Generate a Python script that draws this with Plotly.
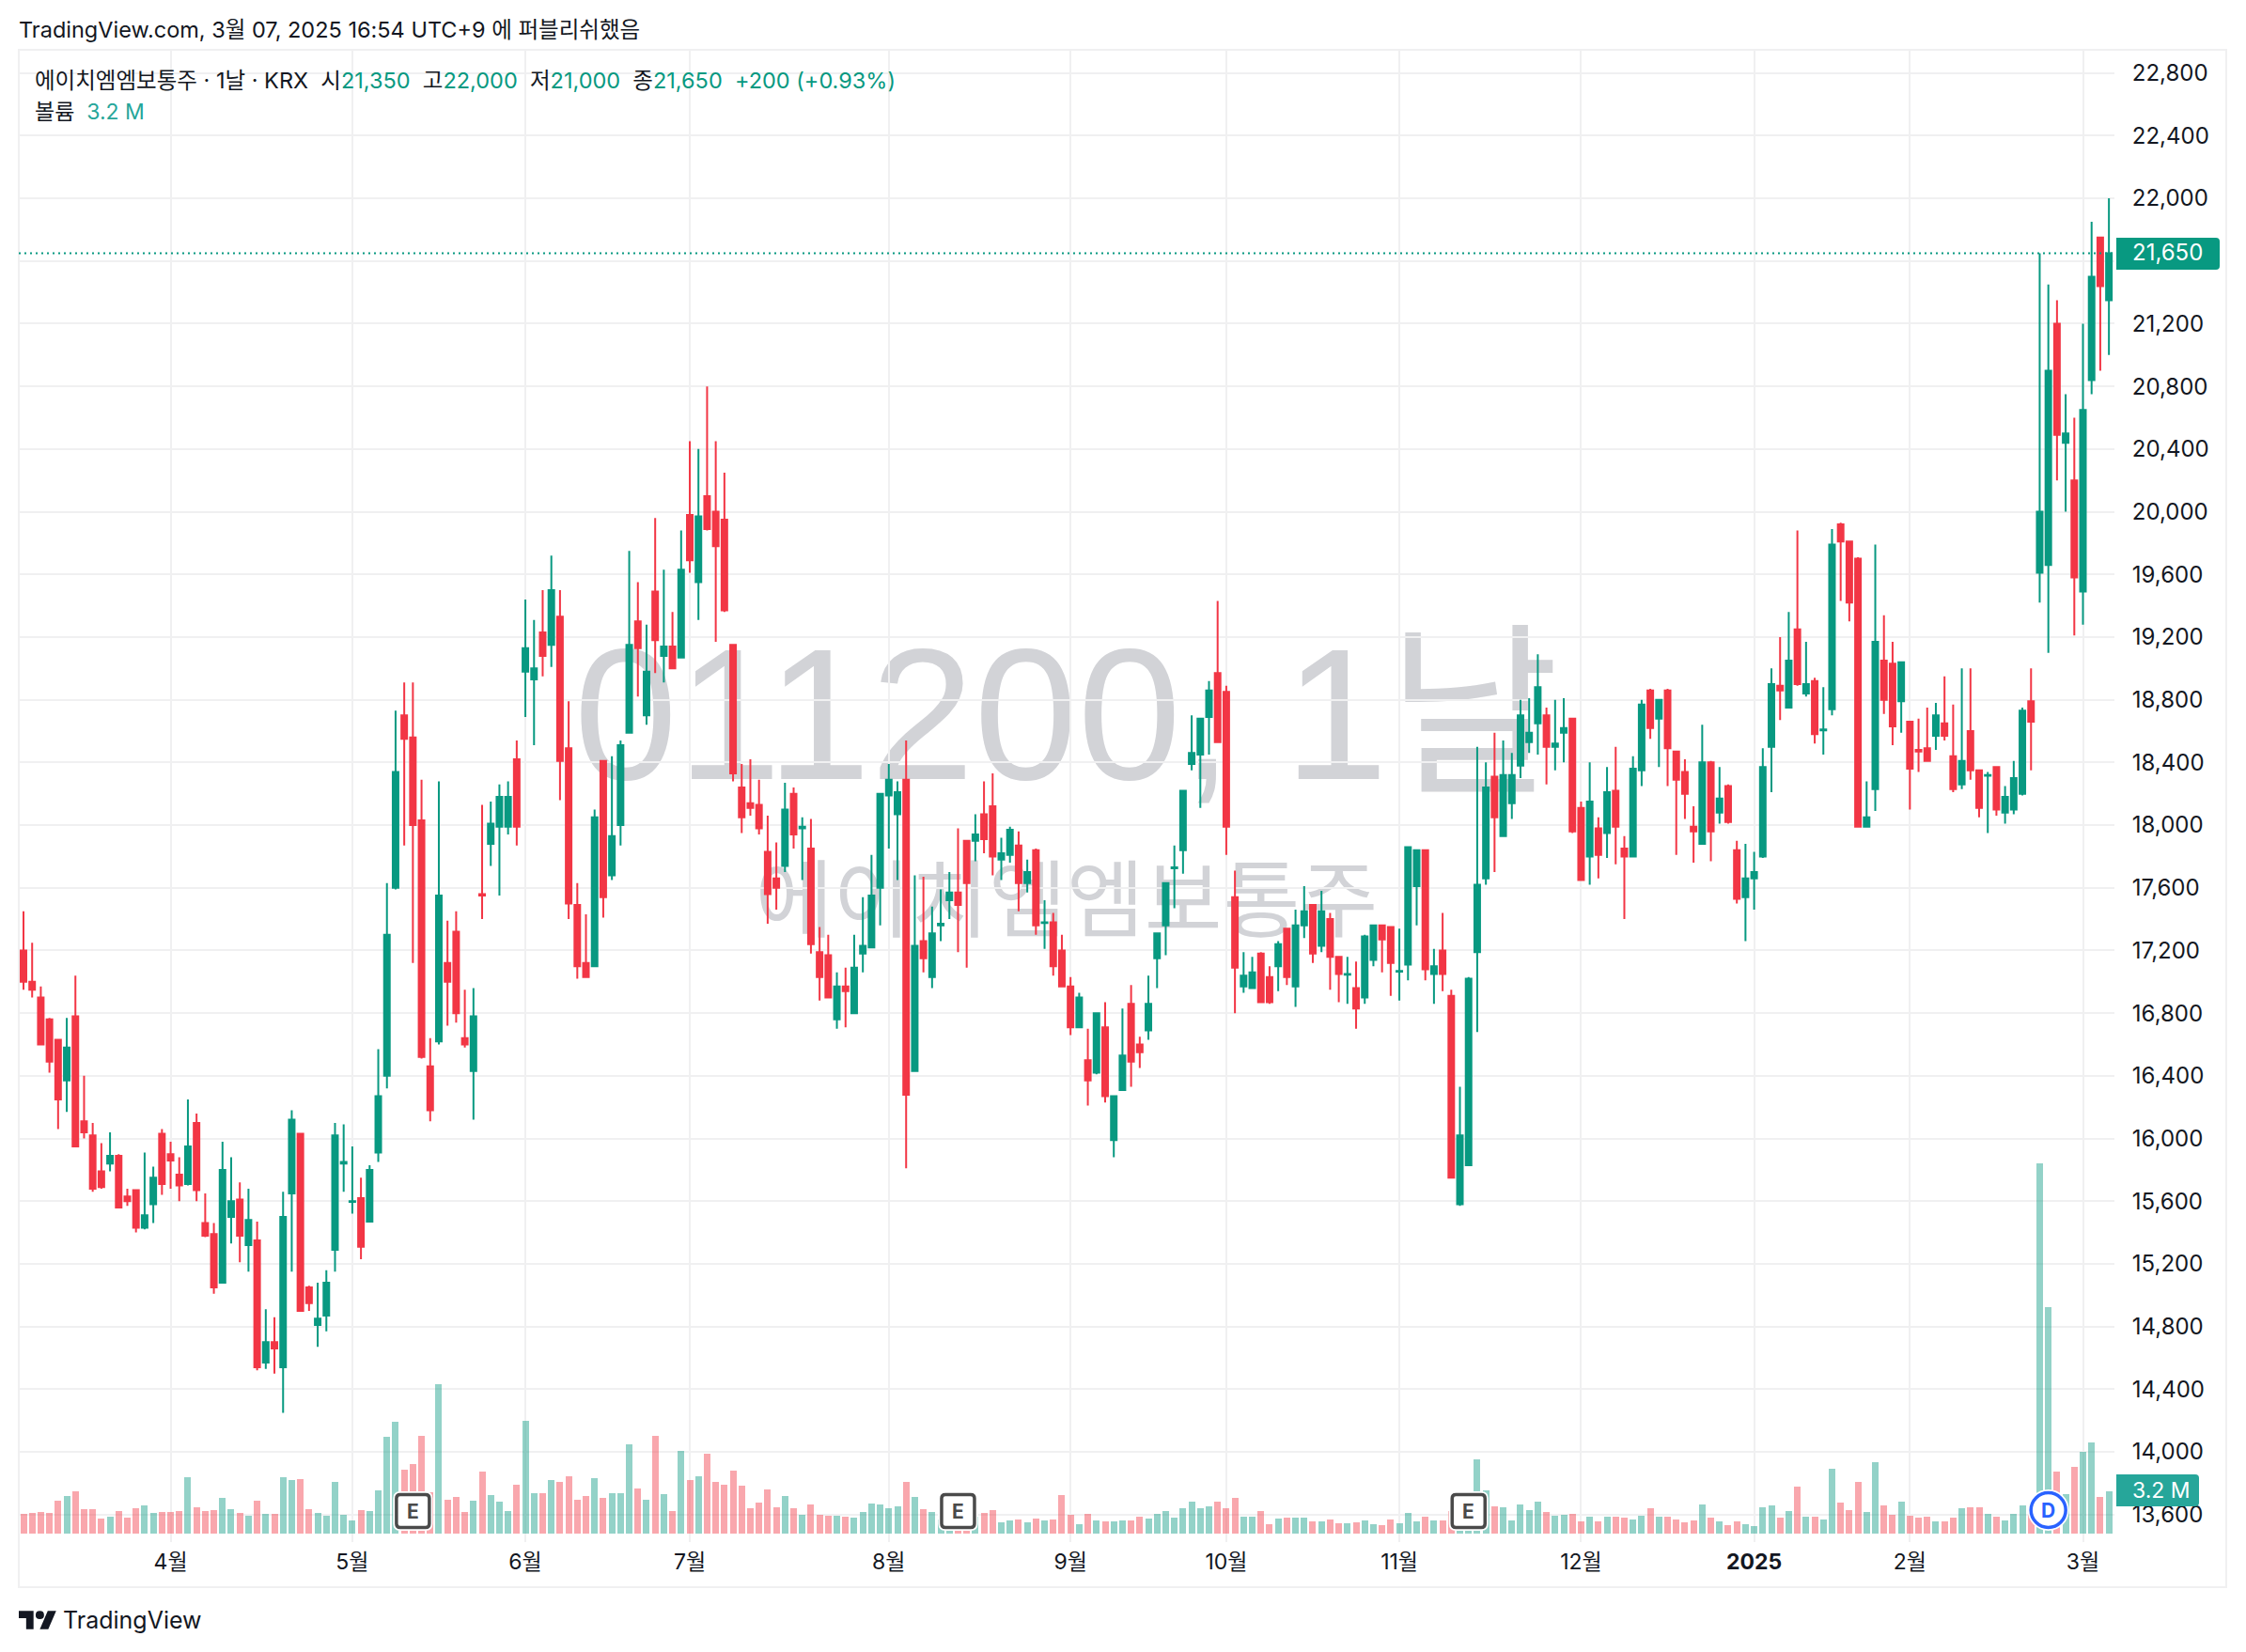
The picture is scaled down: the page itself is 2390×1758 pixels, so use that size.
import plotly.graph_objects as go

# Daily bars: open, high, low, close, volume in millions of shares
opens = [17200,17000,16900,16760,16630,16370,16780,16110,16020,15790,15840,15890,15630,15670,15430,15580,16030,15900,15770,15710,
16100,15460,15390,15080,15500,15610,15320,15350,14570,14700,14540,15650,16030,15050,14810,14870,15290,15840,15595,15620,
15470,15910,16400,17600,18700,18560,18030,16460,16620,17120,17320,16640,16430,17560,17880,17990,17990,18420,18980,18930,
19230,19150,19330,18490,17490,17120,17100,18410,17680,18000,18590,19300,18700,19490,19080,19140,19070,19980,19550,20100,
20000,19950,19150,18240,18140,18130,17830,17660,17740,18200,17980,17850,17190,17170,16760,16970,16800,17180,17220,17600,
18190,18070,18290,16430,17260,17030,17360,17520,17570,17900,17900,18070,18120,17780,17810,17870,17630,17840,17375,17380,
17200,16970,16710,16500,16420,16710,15990,16310,16860,16600,16690,17150,17360,17725,17840,18390,18450,18690,18970,18850,
17540,16970,16960,17180,17030,17100,17340,16970,17360,17490,17230,17400,17160,17045,16960,16900,17140,17360,17350,17065,
17110,17610,17840,17050,17200,16910,15580,15830,17190,17660,18310,17930,18140,18380,18530,18650,18700,18500,18590,18680,
18110,17800,17980,17950,18220,17850,17800,18350,18860,18680,18860,18470,18340,17990,17880,18400,18080,18250,17840,17540,
17660,17800,18500,18890,18750,19250,18840,18920,18605,18740,19920,19810,19700,17990,18230,19050,19030,18790,18660,18480,
18490,18570,18650,18440,18260,18600,18350,18315,18370,18080,18100,18200,18790,19610,19660,21200,20440,20200,19490,20840,
21750,21350]
highs = [17450,17250,16970,16770,16630,16770,17040,16400,16100,15970,16040,15900,15680,15670,15910,15820,16060,15980,15880,16250,
16160,15650,15460,15980,15880,15720,15680,15470,14910,14860,15660,16180,16030,15060,15080,15160,16100,16090,15950,15750,
15830,16570,17630,18730,18910,18910,18290,16640,18280,17390,17450,16950,16960,18130,18150,18260,18280,18540,19440,19310,
19500,19720,19500,18790,17630,17430,18100,18410,18440,18540,19750,19550,19280,19960,19630,19360,19880,20450,20400,20800,
20450,20250,19150,18390,18420,18290,18060,17890,18270,18240,18050,18040,17350,17300,17060,17090,17300,17540,17810,18200,
18390,18280,18540,17680,17670,17480,17590,17700,17980,17900,18070,18280,18330,17920,17990,17960,17780,17850,17520,17440,
17300,17030,16930,16700,16800,16870,16270,16830,16980,16650,17040,17310,17630,17870,18220,18700,18680,18920,19430,18890,
17710,17190,17160,17190,17100,17260,17340,17460,17610,17490,17580,17440,17160,17160,17130,17300,17360,17360,17350,17340,
17860,17840,17840,17210,17440,16950,16330,17030,18500,18400,18590,18540,18460,18800,18810,19090,18750,18800,18810,18680,
18150,18400,18050,18370,18500,17930,18440,18800,18870,18800,18870,18470,18420,18120,18640,18410,18370,18260,17900,17880,
17830,18490,19000,19200,19360,19880,19170,18940,18880,19890,19930,19810,19710,18280,19790,19340,19170,19040,18660,18680,
18750,18780,18950,18770,19000,19000,18350,18340,18370,18250,18410,18750,19000,21650,21450,21350,20750,20600,21200,21850,
21750,22000]
lows = [16950,16900,16600,16420,16060,16170,15950,16000,15660,15680,15790,15560,15570,15400,15420,15460,15640,15680,15600,15700,
15600,15370,15010,15080,15330,15210,15150,14520,14530,14500,14250,15150,14900,14900,14670,14770,15150,15660,15520,15230,
15470,15850,16320,17590,17870,17120,16510,16110,16600,16720,16740,16580,16120,17400,17740,17550,17940,17870,18690,18510,
18950,19010,18160,17400,17020,17030,17100,17410,17650,17870,18590,18820,18640,18970,18910,19000,19070,19610,19310,19880,
19170,19360,18280,17950,18060,17940,17370,17460,17700,17850,17650,17180,16880,16900,16700,16710,16800,17060,17220,17360,
17850,17650,15810,16430,17060,16960,17260,17400,17190,17090,17770,17820,17680,17650,17760,17450,17570,17300,17210,17040,
16970,16660,16710,16210,16410,16230,15880,16310,16330,16450,16630,16960,17170,17470,17690,18350,18110,18450,18530,17810,
16800,16930,16960,16870,16860,16940,16980,16840,17280,17120,17190,16950,16870,16860,16700,16860,17100,17060,16910,16880,
17010,17360,17010,16860,16940,15750,15570,15830,16680,17620,17700,17930,18040,18300,18460,18450,18260,18350,18400,17950,
17650,17620,17660,17790,17750,17400,17800,18250,18550,18370,18250,17810,18040,17760,17880,17770,18010,18010,17500,17260,
17460,17790,18210,18670,18750,18890,18820,18520,18450,18700,19430,19300,17990,17990,18090,18710,18510,18590,18100,18340,
18410,18480,18540,18210,18230,18290,18050,17950,18060,18010,18070,18190,18350,19420,19100,20200,20000,19210,19280,20750,
20900,21000]
closes = [17000,16950,16600,16490,16250,16580,15950,16040,15680,15690,15890,15560,15600,15430,15510,15750,15710,15860,15700,15950,
15670,15380,15050,15800,15600,15380,15480,14540,14700,14660,15500,16120,14900,14950,14850,15080,16020,15850,15600,15310,
15800,16270,17300,18340,18550,18000,16520,16180,17550,17000,16800,16600,16780,17550,18010,18180,18180,17990,19130,19000,
19080,19500,18410,17500,17100,17030,18050,17540,17930,18510,19150,19130,18980,19180,19140,19000,19630,19690,19970,19890,
19780,19370,18330,18050,18110,17980,17560,17600,18100,17940,17990,17240,17030,16900,16970,16940,17090,17230,17550,18200,
18290,18210,16280,17230,17150,17310,17370,17570,17490,17630,17940,17910,17800,17820,17970,17630,17700,17360,17380,17100,
16970,16710,16900,16370,16800,16270,16270,16530,16490,16550,16860,17310,17630,17730,18220,18460,18680,18860,18530,17990,
17090,17040,17060,16870,16870,17240,17030,17360,17450,17180,17450,17160,17050,17050,16830,17290,17360,17270,17120,17070,
17860,17840,17080,17100,17050,15750,16020,17020,17620,18240,18050,18320,18320,18700,18590,18880,18500,18520,18620,17960,
17650,18150,17810,18210,17990,17800,18360,18770,18620,18800,18490,18290,18200,17960,18400,17960,18170,18020,17530,17660,
17700,18370,18900,18860,19050,18900,18900,18580,18610,19790,19810,19420,17990,18050,19170,18800,18630,19040,18360,18470,
18410,18700,18570,18230,18410,18350,18110,18320,18100,18180,18300,18730,18660,20000,20900,20490,20500,19580,20650,21500,
21440,21650]
volumes = [1.44,1.51,1.58,1.51,2.45,2.81,3.17,1.80,1.80,1.08,1.22,1.65,1.15,1.87,2.09,1.51,1.58,1.58,1.65,4.24,
1.94,1.65,1.73,2.66,1.80,1.51,1.29,2.45,1.44,1.44,4.24,4.03,4.10,1.80,1.51,1.29,3.88,1.37,0.94,1.73,
1.65,3.24,7.34,8.49,4.82,5.25,7.41,3.09,11.29,2.52,2.73,1.58,2.45,4.68,2.88,2.37,1.65,3.67,8.56,3.02,
3.02,4.03,3.88,4.32,2.52,2.81,4.17,2.66,3.02,3.02,6.76,3.38,2.52,7.41,2.95,1.65,6.26,4.03,4.32,6.04,
3.88,3.67,4.75,3.60,1.87,2.30,3.31,1.94,2.81,1.87,1.37,2.16,1.37,1.29,1.29,1.22,1.15,1.58,2.23,2.16,
1.87,2.01,3.88,2.73,1.80,1.58,1.03,1.03,1.44,1.44,1.27,1.51,1.73,0.79,0.94,1.01,0.79,1.08,0.94,1.01,
2.88,1.37,0.65,1.44,0.94,0.86,0.86,0.94,0.94,1.22,1.08,1.44,1.65,1.15,1.87,2.37,1.87,2.01,2.37,1.87,
2.66,1.22,1.22,1.65,0.65,1.08,1.15,1.15,1.15,0.86,0.86,1.01,0.72,0.72,0.79,0.94,0.65,0.58,1.01,0.72,
1.51,0.86,1.22,0.94,0.94,1.68,1.92,2.16,5.61,3.24,2.01,1.93,0.99,2.21,1.78,2.37,1.58,1.35,1.42,1.50,
0.87,1.22,0.92,1.22,1.22,1.15,1.07,1.35,1.86,1.22,1.22,1.07,0.79,0.99,2.21,1.15,0.87,0.64,0.92,0.71,
0.56,1.93,2.14,1.15,1.70,3.51,1.22,1.22,1.07,4.86,2.29,1.78,3.87,1.58,5.42,2.14,1.42,2.37,1.35,1.15,
1.22,0.92,0.92,1.15,1.86,1.93,1.93,1.50,1.22,0.99,1.50,2.14,1.78,28.12,17.15,4.66,2.93,5.01,6.16,6.92,
2.72,3.20]

session = list(range(len(opens)))

month_ticks = [17, 38, 58, 77, 100, 121, 139, 159, 180, 200, 218, 238]
month_labels = ["4월", "5월", "6월", "7월", "8월", "9월", "10월", "11월", "12월", "<b>2025</b>", "2월", "3월"]
price_ticks = list(range(13600, 23200, 400))
# the last-price tag sits over the 21,600 label
price_labels = ["" if v == 21600 else f"{v:,}" for v in price_ticks]

earnings_sessions = [45, 108, 167]
dividend_session = 234
last_close = closes[-1]

W, H = 2390, 1758
UP, DOWN = "#089981", "#F23645"
UP_VOL, DOWN_VOL = "rgba(8,153,129,0.44)", "rgba(242,54,69,0.44)"
GRID = "#f0f0f1"
INK = "#131722"
FONT = "Inter, 'Noto Sans CJK KR', sans-serif"

PLOT_L, PLOT_R, PLOT_T, PLOT_B = 20, 2250, 53, 1641
BAR_X0, BAR_STEP = 25.0, 9.208
Y_TOP, Y_SCALE = 77.67, 0.16675
VOL_BASE, VOL_SCALE = 1631.5, 14.0


def px(x):
    return x / W


def py(y):
    return 1 - y / H


def rounded(hw, hh, r):
    """Rounded rectangle centred on the anchor, in pixels."""
    return (f"M {-hw+r} {-hh} L {hw-r} {-hh} Q {hw} {-hh} {hw} {-hh+r} L {hw} {hh-r} "
            f"Q {hw} {hh} {hw-r} {hh} L {-hw+r} {hh} Q {-hw} {hh} {-hw} {hh-r} "
            f"L {-hw} {-hh+r} Q {-hw} {-hh} {-hw+r} {-hh} Z")


def tag_path(x0, x1, y0, y1, r=4):
    """Axis tag: square on the left, rounded on the right, in page pixels."""
    return (f"M {px(x0)} {py(y0)} L {px(x1-r)} {py(y0)} Q {px(x1)} {py(y0)} {px(x1)} {py(y0+r)} "
            f"L {px(x1)} {py(y1-r)} Q {px(x1)} {py(y1)} {px(x1-r)} {py(y1)} L {px(x0)} {py(y1)} Z")


def logo_path(x0, y0, sx, sy):
    def p(a, b):
        return f"{px(x0 + a * sx)} {py(y0 + b * sy)}"
    return (f"M {p(14,22)} L {p(7,22)} L {p(7,11)} L {p(0,11)} L {p(0,4)} L {p(14,4)} Z "
            f"M {p(28,22)} L {p(20,22)} L {p(27.5,4)} L {p(35.5,4)} Z "
            f"M {p(16,8)} Q {p(16,4)} {p(20,4)} Q {p(24,4)} {p(24,8)} Q {p(24,12)} {p(20,12)} Q {p(16,12)} {p(16,8)} Z")


fig = go.Figure()

fig.add_trace(go.Bar(
    x=session, y=volumes, yaxis="y", width=0.76,
    marker=dict(color=[UP_VOL if c >= o else DOWN_VOL for o, c in zip(opens, closes)], line_width=0),
    showlegend=False, hoverinfo="skip",
))
fig.add_trace(go.Candlestick(
    x=session, open=opens, high=highs, low=lows, close=closes, yaxis="y2",
    increasing=dict(line=dict(color=UP, width=2), fillcolor=UP),
    decreasing=dict(line=dict(color=DOWN, width=2), fillcolor=DOWN),
    whiskerwidth=0, showlegend=False,
))

shapes = [
    # chart frame
    dict(type="rect", xref="paper", yref="paper", x0=px(20), x1=px(2369), y0=py(53), y1=py(1689),
         line=dict(color=GRID, width=2), layer="below"),
    # watermark, under the grid and the bars
    dict(type="rect", xref="paper", yref="paper", x0=px(PLOT_L), x1=px(PLOT_R), y0=py(646), y1=py(836),
         line_width=0, fillcolor="rgba(0,0,0,0)", layer="below",
         label=dict(text="011200, 1날", textposition="middle center",
                    font=dict(family="'Liberation Sans', 'Noto Sans CJK KR', sans-serif", size=198, color="#d2d3d7"))),
    dict(type="rect", xref="paper", yref="paper", x0=px(PLOT_L), x1=px(PLOT_R), y0=py(910), y1=py(1020),
         line_width=0, fillcolor="rgba(0,0,0,0)", layer="below",
         label=dict(text="에이치엠엠보통주", textposition="middle center",
                    font=dict(family="'Noto Sans CJK KR', sans-serif", size=90, color="#d2d3d7"))),
    # last price line
    dict(type="line", xref="x domain", yref="y2", x0=0, x1=1, y0=last_close, y1=last_close,
         line=dict(color=UP, width=2, dash="2px,4px")),
    # axis tags
    dict(type="path", xref="paper", yref="paper", path=tag_path(2252, 2362, 253, 287),
         fillcolor=UP, line_width=0),
    dict(type="path", xref="paper", yref="paper", path=tag_path(2252, 2340, 1569, 1603),
         fillcolor="#26a69a", line_width=0),
    # logo
    dict(type="path", xref="paper", yref="paper", path=logo_path(20, 1710, 1.12, 1.08),
         fillcolor=INK, line_width=0),
]

annotations = []
for s in earnings_sessions:
    for col, w in (("#ffffff", 7), ("#4a4a4a", 3.5)):
        shapes.append(dict(type="path", xref="x", yref="paper", xsizemode="pixel", ysizemode="pixel",
                           xanchor=s, yanchor=py(1608), path=rounded(17.5, 17.5, 4),
                           fillcolor="#ffffff", line=dict(color=col, width=w)))
    annotations.append(dict(xref="x", yref="paper", x=s, y=py(1608), text="<b>E</b>", showarrow=False,
                            xanchor="center", yanchor="middle",
                            font=dict(family=FONT, size=21, color="#4a4a4a")))
for col, r, w in (("#ffffff", 21, 2), ("#2962FF", 18.5, 3.5)):
    shapes.append(dict(type="circle", xref="x", yref="paper", xsizemode="pixel", ysizemode="pixel",
                       xanchor=dividend_session, yanchor=py(1607), x0=-r, x1=r, y0=-r, y1=r,
                       fillcolor="#ffffff", line=dict(color=col, width=w)))
annotations.append(dict(xref="x", yref="paper", x=dividend_session, y=py(1607), text="<b>D</b>", showarrow=False,
                        xanchor="center", yanchor="middle",
                        font=dict(family=FONT, size=21, color="#2962FF")))


def page_text(x, y, text, size, color=INK, anchor="left"):
    annotations.append(dict(xref="paper", yref="paper", x=px(x), y=py(y), text=text, showarrow=False,
                            xanchor=anchor, yanchor="middle", align=anchor, borderpad=0,
                            font=dict(family=FONT, size=size, color=color)))


def up(t):
    return f"<span style='color:{UP}'>{t}</span>"


page_text(19, 31, "TradingView.com, 3월 07, 2025 16:54 UTC+9 에 퍼블리쉬했음", 23.5)
page_text(36, 85, "에이치엠엠보통주 · 1날 · KRX  시" + up("21,350") + "  고" + up("22,000") + "  저" + up("21,000")
          + "  종" + up("21,650") + "  " + up("+200 (+0.93%)"), 23.5)
page_text(36, 119, "볼륨  <span style='color:#26a69a'>3.2 M</span>", 23)
page_text(2268, 269, "21,650", 24, "#ffffff")
page_text(2268, 1586, "3.2 M", 23, "#ffffff")
page_text(66, 1724, "TradingView", 25)

fig.update_layout(
    width=W, height=H, autosize=False,
    margin=dict(l=0, r=0, t=0, b=0),
    paper_bgcolor="#ffffff", plot_bgcolor="rgba(0,0,0,0)",
    font=dict(family=FONT, color=INK),
    boxgap=0.35, boxgroupgap=0, bargap=0,
    showlegend=False, dragmode=False,
    shapes=shapes, annotations=annotations,
    xaxis=dict(
        domain=[px(PLOT_L), px(PLOT_R)],
        range=[(PLOT_L - BAR_X0) / BAR_STEP, (PLOT_R - BAR_X0) / BAR_STEP],
        tickmode="array", tickvals=month_ticks, ticktext=month_labels,
        tickfont=dict(family=FONT, size=23, color=INK),
        showgrid=True, gridcolor=GRID, gridwidth=2, zeroline=False, showline=False,
        ticks="", ticklen=0, ticklabelstandoff=5,
        rangeslider=dict(visible=False),
    ),
    # volume pane shares the plot area, anchored to the bottom
    yaxis=dict(
        domain=[py(PLOT_B), py(PLOT_T)],
        range=[(VOL_BASE - PLOT_B) / VOL_SCALE, (VOL_BASE - PLOT_T) / VOL_SCALE],
        showgrid=False, zeroline=False, showticklabels=False, ticks="",
    ),
    yaxis2=dict(
        overlaying="y", side="right", anchor="x",
        range=[22800 - (PLOT_B - Y_TOP) / Y_SCALE, 22800 + (Y_TOP - PLOT_T) / Y_SCALE],
        tickmode="array", tickvals=price_ticks, ticktext=price_labels,
        tickfont=dict(family=FONT, size=24, color=INK),
        showgrid=True, gridcolor=GRID, gridwidth=2, zeroline=False, showline=False,
        ticks="outside", ticklen=13, tickcolor="rgba(0,0,0,0)",
    ),
)

fig.write_html("out.html", config=dict(displayModeBar=False))
